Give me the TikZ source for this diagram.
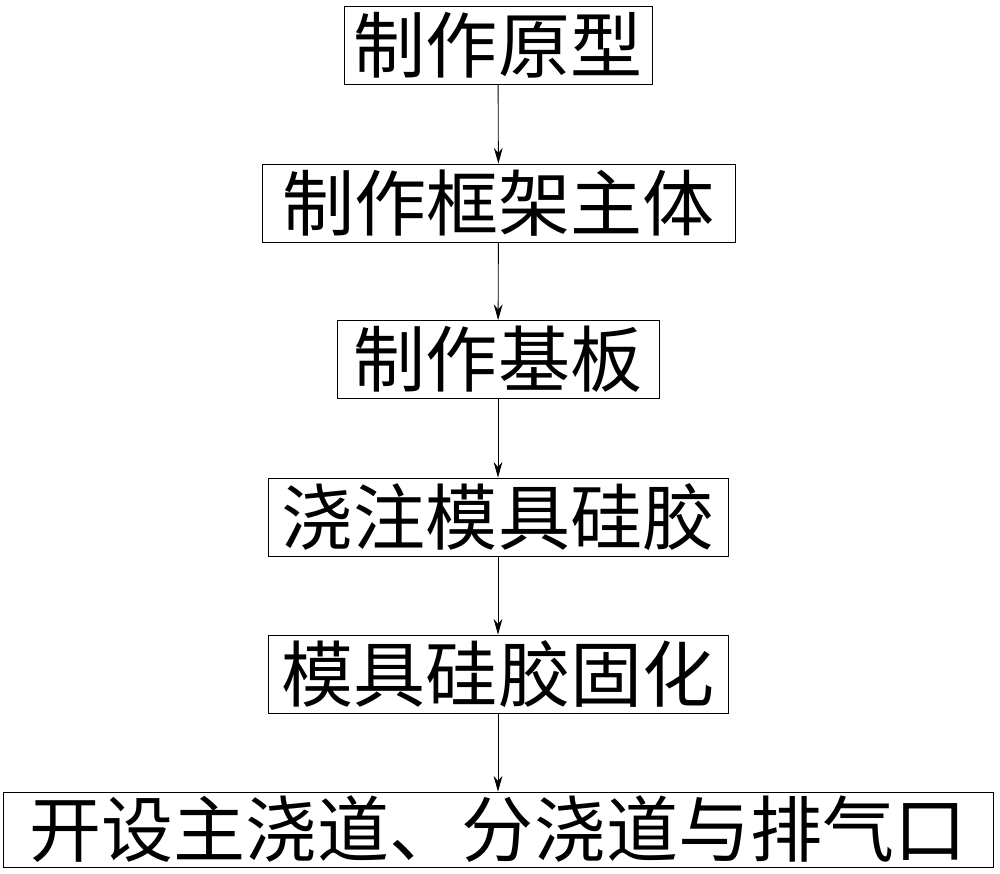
\documentclass[tikz,border=0pt]{standalone}
\usepackage{fontspec}
\newfontfamily\cjk{Noto Sans CJK SC}
\usetikzlibrary{arrows.meta,positioning}
\tikzset{
  box/.style={draw, rectangle, inner sep=0pt, minimum height=1.56cm, font=\cjk\fontsize{41}{43}\selectfont},
  flow/.style={-{Stealth[length=9pt,width=5pt]}, line width=0.5pt}
}
\begin{document}
\begin{tikzpicture}
      \useasboundingbox (0,0) rectangle (20,-17.46);
      % Define nodes
      \node[box, minimum width=6.16cm] (0) at (9.96,-0.91) {制作原型};
      \node[box, minimum width=9.46cm] (1) at (9.97,-4.06) {制作框架主体};
      \node[box, minimum width=6.44cm] (2) at (9.96,-7.19) {制作基板};
      \node[box, minimum width=9.20cm] (3) at (9.96,-10.34) {浇注模具硅胶};
      \node[box, minimum width=9.20cm] (4) at (9.96,-13.48) {模具硅胶固化};
      \node[box, minimum width=19.80cm, minimum height=1.50cm] (5) at (9.96,-16.59) {开设主浇道、分浇道与排气口};

      % Draw edges
      \draw[flow] (0) -- (1);
      \draw[flow] (1) -- (2);
      \draw[flow] (2) -- (3);
      \draw[flow] (3) -- (4);
      \draw[flow] (4) -- (5);
    \end{tikzpicture}
\end{document}
